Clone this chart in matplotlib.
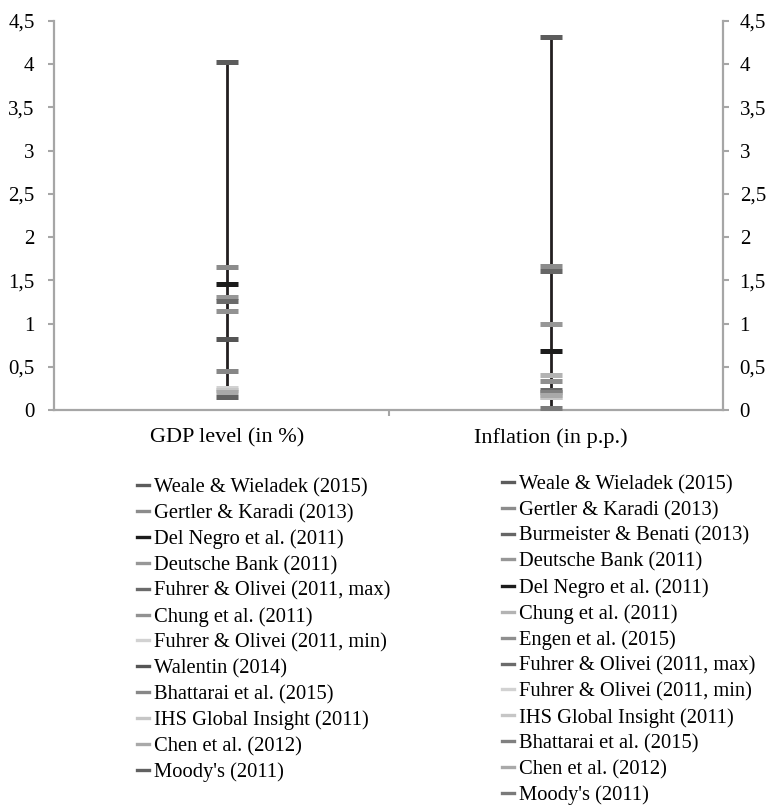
import matplotlib
matplotlib.use("Agg")
import matplotlib.pyplot as plt
from matplotlib.lines import Line2D

plt.rcParams['font.family'] = ['Liberation Serif', 'DejaVu Serif']

# Data
categories = ["GDP level (in %)", "Inflation (in p.p.)"]

gdp_studies = ["Weale & Wieladek (2015)", "Gertler & Karadi (2013)", "Del Negro et al. (2011)",
               "Deutsche Bank (2011)", "Fuhrer & Olivei (2011, max)", "Chung et al. (2011)",
               "Fuhrer & Olivei (2011, min)", "Walentin (2014)", "Bhattarai et al. (2015)",
               "IHS Global Insight (2011)", "Chen et al. (2012)", "Moody's (2011)"]
gdp_values = [4.03, 1.66, 1.455, 1.31, 1.26, 1.15, 0.25, 0.82, 0.45, 0.23, 0.21, 0.15]

infl_studies = ["Weale & Wieladek (2015)", "Gertler & Karadi (2013)", "Burmeister & Benati (2013)",
                "Deutsche Bank (2011)", "Del Negro et al. (2011)", "Chung et al. (2011)",
                "Engen et al. (2015)", "Fuhrer & Olivei (2011, max)", "Fuhrer & Olivei (2011, min)",
                "IHS Global Insight (2011)", "Bhattarai et al. (2015)", "Chen et al. (2012)",
                "Moody's (2011)"]
infl_values = [4.31, 1.67, 1.605, 1.0, 0.68, 0.40, 0.335, 0.23, 0.155, 0.15, 0.205, 0.17, 0.025]

# grey shade per study
colors = {
    "Weale & Wieladek (2015)": "#5c5c5c",
    "Gertler & Karadi (2013)": "#8c8c8c",
    "Del Negro et al. (2011)": "#1c1c1c",
    "Deutsche Bank (2011)": "#979797",
    "Fuhrer & Olivei (2011, max)": "#6b6b6b",
    "Chung et al. (2011)": "#929292",
    "Fuhrer & Olivei (2011, min)": "#d2d2d2",
    "Walentin (2014)": "#555555",
    "Bhattarai et al. (2015)": "#878787",
    "IHS Global Insight (2011)": "#c6c6c6",
    "Chen et al. (2012)": "#a9a9a9",
    "Moody's (2011)": "#616161",
    "Burmeister & Benati (2013)": "#666666",
    "Engen et al. (2015)": "#8f8f8f",
}
infl_colors = dict(colors)
infl_colors["Chung et al. (2011)"] = "#b3b3b3"
infl_colors["Bhattarai et al. (2015)"] = "#808080"
infl_colors["Moody's (2011)"] = "#7a7a7a"

fs = 14.8

fig = plt.figure(figsize=(7.67, 8.05), dpi=100)
ax = fig.add_axes([54/767, 1 - 410/805, 669/767, 389/805])
grey = "#a6a6a6"

groups = [(gdp_studies, gdp_values, colors), (infl_studies, infl_values, infl_colors)]
for i, (studies, vals, cmap) in enumerate(groups):
    ax.vlines(i, min(vals), max(vals), color="#231f20", lw=2.0, zorder=2)
    for s, v in zip(studies, vals):
        ax.plot([i], [v], marker="_", ms=16, mew=3.6, color=cmap[s], zorder=3)

ax.set_xlim(-0.534, 1.531)
ax.set_ylim(0, 4.5)
ax.set_xticks([0, 1])
ax.set_xticklabels(categories, fontsize=16)
ax.set_xticks([0.5], minor=True)
ax.tick_params(axis="x", which="major", length=0, pad=13)
ax.tick_params(axis="x", which="minor", length=4, width=1.5, color=grey)

yt = [0, 0.5, 1, 1.5, 2, 2.5, 3, 3.5, 4, 4.5]
ylabels = [f"{t:g}".replace(".", ",") for t in yt]
ax.set_yticks(yt)
ax.set_yticklabels(ylabels, fontsize=15)
ax.tick_params(axis="y", length=4, width=1.5, color=grey, pad=10)

ax2 = ax.twinx()
ax2.set_ylim(0, 4.5)
ax2.set_yticks(yt)
ax2.set_yticklabels(ylabels, fontsize=15)
ax2.tick_params(axis="y", length=4, width=1.5, color=grey, pad=8)

for a in (ax, ax2):
    a.spines["top"].set_visible(False)
    for side in ("left", "right", "bottom"):
        a.spines[side].set_color(grey)
        a.spines[side].set_linewidth(1.6)
ax.spines["right"].set_visible(False)
ax2.spines["left"].set_visible(False)
ax2.spines["bottom"].set_visible(False)

# legends
h1 = [Line2D([], [], color=colors[s], lw=2.4) for s in gdp_studies]
fig.legend(h1, gdp_studies, loc="upper left", bbox_to_anchor=(137/767, 1 - 478/805),
           frameon=False, fontsize=fs, handlelength=0.58, handletextpad=0.25,
           labelspacing=0.31, borderpad=0, borderaxespad=0)
h2 = [Line2D([], [], color=infl_colors[s], lw=2.4) for s in infl_studies]
fig.legend(h2, infl_studies, loc="upper left", bbox_to_anchor=(502/767, 1 - 475/805),
           frameon=False, fontsize=fs, handlelength=0.58, handletextpad=0.25,
           labelspacing=0.31, borderpad=0, borderaxespad=0)

fig.savefig("out.png", dpi=100)
